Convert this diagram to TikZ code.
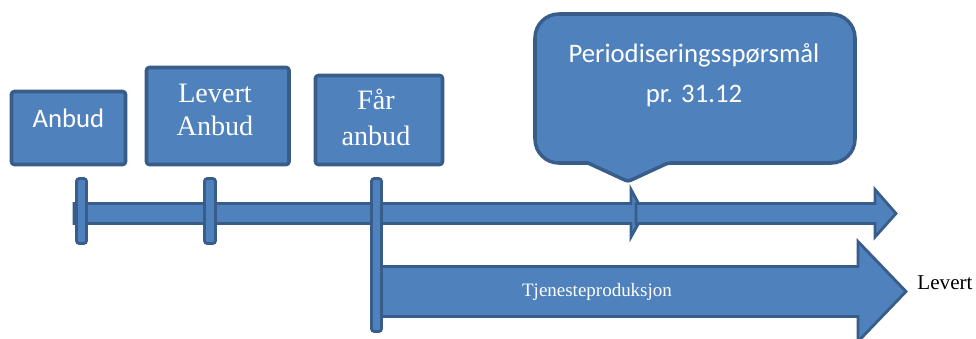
\documentclass[tikz,border=0pt]{standalone}
\usepackage{fontspec}
\setmainfont{Liberation Serif}
\newfontfamily\calibri{Carlito}
\usepackage{tikz}
\usetikzlibrary{positioning}
\definecolor{boxblue}{HTML}{4F81BD}
\definecolor{edgeblue}{HTML}{385D8A}
\tikzset{
  box/.style = {fill=boxblue, draw=edgeblue, line width=2.5pt, rounded corners=2pt},
  bar/.style = {fill=boxblue, draw=edgeblue, line width=2pt, line join=miter},
  tickbar/.style = {fill=boxblue, draw=edgeblue, line width=2pt, rounded corners=2pt},
  boxtext/.style = {text=white, align=center, inner sep=0pt}
}
\begin{document}
\begin{tikzpicture}[x=0.025cm, y=-0.025cm]
\useasboundingbox (0,0) rectangle (976,338);
% boxes
\draw[box] (11.5,91.5) rectangle (125.5,164.5);
\draw[box] (146.5,67.5) rectangle (289,164.5);
\draw[box] (315.5,75.5) rectangle (442.5,164.5);
\node (anbud) [boxtext, font=\calibri\fontsize{19}{24}\selectfont] at (68.5,118) {Anbud};
\node (levert) [boxtext, font=\fontsize{20}{24}\selectfont] at (215,110) {Levert\\Anbud};
\node (faar) [boxtext, font=\fontsize{20}{25}\selectfont] at (376,117.5) {Får\\anbud};
% callout
\draw[box] (588,163) -- (628,181.5) -- (668,163)
  [rounded corners=17pt] -- (855,163) -- (855,14) -- (535,14) -- (535,163)
  [sharp corners] -- cycle;
\node (periode) [boxtext, font=\calibri\fontsize{19}{28.4}\selectfont] at (694,75) {Periodiseringsspørsmål\\pr. 31.12};
% timeline
\draw[bar] (74,203.5) -- (631,203.5) -- (631,189.5) -- (644,213.5) -- (631,237) -- (631,223.5) -- (74,223.5) -- cycle;
\draw[bar] (636,203.5) -- (875,203.5) -- (875,189.5) -- (896,213.5) -- (875,237) -- (875,223.5) -- (636,223.5) -- cycle;
% production arrow
\draw[bar] (380,266.5) -- (858,266.5) -- (858,241.5) -- (906,291.5) -- (858,341.5) -- (858,316.5) -- (380,316.5) -- cycle;
\node (tjeneste) [boxtext, font=\fontsize{13.5}{16}\selectfont] at (597,292) {Tjenesteproduksjon};
\node (levertend) [inner sep=0pt, font=\fontsize{15}{18}\selectfont] at (945,283) {Levert};
% ticks
\foreach \xa/\xb/\yb in {76.5/86.5/243.5, 204.5/215.5/243.5, 371.5/381.5/331.5} {
    \draw[tickbar] (\xa,178.5) rectangle (\xb,\yb);
}
\end{tikzpicture}
\end{document}
